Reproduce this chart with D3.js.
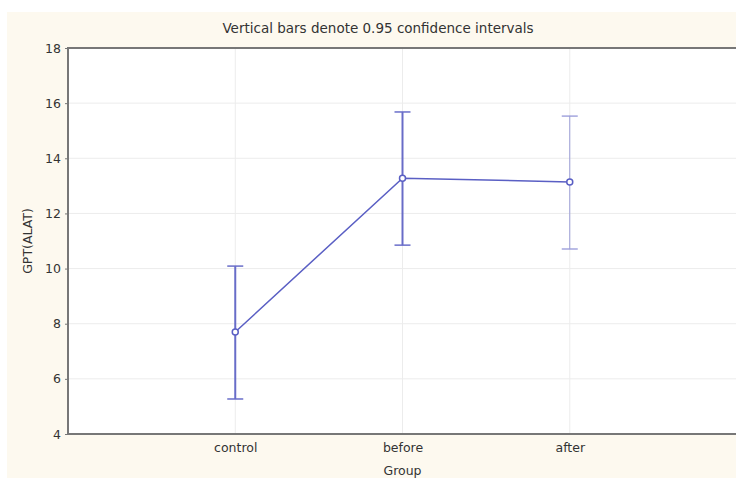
<!DOCTYPE html>
<html>
<head>
<meta charset="utf-8">
<script src="https://cdn.jsdelivr.net/npm/d3@7/dist/d3.min.js"></script>
<style>
  body { margin: 0; background: #fff; }
  svg { display: block; font-family: "DejaVu Sans", Verdana, sans-serif; }
</style>
</head>
<body>
<svg width="736" height="479"></svg>
<script>
var groups = ["control", "before", "after"];
var means = [7.70, 13.28, 13.14];
var lower = [5.27, 10.85, 10.71];
var upper = [10.09, 15.68, 15.53];
var yTicks = [4, 6, 8, 10, 12, 14, 16, 18];

var svg = d3.select("svg");
var margin = {left: 68, top: 48, right: -1, bottom: 45};
var width = +svg.attr("width");
var height = +svg.attr("height");

// cream frame
svg.append("rect")
    .attr("x", 7).attr("y", 12)
    .attr("width", width - 7).attr("height", height - 13)
    .attr("fill", "#fdf9ef");

var x = d3.scaleLinear()
    .domain([0, groups.length + 1])
    .range([margin.left, width - margin.right]);
var y = d3.scaleLinear()
    .domain([4, 18])
    .range([height - margin.bottom, margin.top]);

svg.append("rect")
    .attr("x", x(0)).attr("y", y(18))
    .attr("width", x(4) - x(0)).attr("height", y(4) - y(18))
    .attr("fill", "#fff");

// grid
svg.append("g").selectAll("line")
    .data(yTicks.slice(1, -1))
    .enter().append("line")
      .attr("x1", x(0)).attr("x2", x(4))
      .attr("y1", function(d) { return y(d); })
      .attr("y2", function(d) { return y(d); })
      .attr("stroke", "#ececec");
svg.append("g").selectAll("line")
    .data(groups)
    .enter().append("line")
      .attr("x1", function(d, i) { return x(i + 1); })
      .attr("x2", function(d, i) { return x(i + 1); })
      .attr("y1", y(18)).attr("y2", y(4))
      .attr("stroke", "#ececec");

// axes
var yAxis = svg.append("g")
    .attr("transform", "translate(" + x(0) + ",0)")
    .call(d3.axisLeft(y).tickValues(yTicks).tickSize(3).tickSizeOuter(0));
var xAxis = svg.append("g")
    .attr("transform", "translate(0," + y(4) + ")")
    .call(d3.axisBottom(x).tickValues([1, 2, 3])
      .tickFormat(function(d) { return groups[d - 1]; })
      .tickSize(0).tickPadding(9));
[yAxis, xAxis].forEach(function(a) {
  a.attr("font-family", null).attr("font-size", null);
  a.select(".domain").remove();
  a.selectAll("text").attr("fill", "#333").style("font-size", "12.5px");
  a.selectAll(".tick line").attr("stroke", "#777");
});
yAxis.selectAll("text").attr("x", -7);

svg.append("path")
    .attr("d", "M" + x(4) + "," + y(18) + "H" + x(0) + "V" + y(4) + "H" + x(4))
    .attr("fill", "none")
    .attr("stroke", "#777")
    .attr("stroke-width", 2);

// error bars
var blue = "#5a5fc4";
var bars = svg.append("g").selectAll("g")
    .data(groups)
    .enter().append("g")
      .attr("opacity", function(d, i) { return i == 2 ? 0.55 : 0.9; });
bars.append("line")
    .attr("x1", function(d, i) { return x(i + 1); })
    .attr("x2", function(d, i) { return x(i + 1); })
    .attr("y1", function(d, i) { return y(lower[i]); })
    .attr("y2", function(d, i) { return y(upper[i]); })
    .attr("stroke", blue)
    .attr("stroke-width", function(d, i) { return i == 2 ? 1 : 2; });
[lower, upper].forEach(function(arr) {
  bars.append("line")
      .attr("x1", function(d, i) { return x(i + 1) - 8; })
      .attr("x2", function(d, i) { return x(i + 1) + 8; })
      .attr("y1", function(d, i) { return y(arr[i]); })
      .attr("y2", function(d, i) { return y(arr[i]); })
      .attr("stroke", blue)
      .attr("stroke-width", 1.5);
});

// mean line
svg.append("path")
    .datum(means)
    .attr("d", d3.line()
      .x(function(d, i) { return x(i + 1); })
      .y(function(d) { return y(d); }))
    .attr("fill", "none")
    .attr("stroke", blue)
    .attr("stroke-width", 1.5);
svg.append("g").selectAll("circle")
    .data(means)
    .enter().append("circle")
      .attr("cx", function(d, i) { return x(i + 1); })
      .attr("cy", function(d) { return y(d); })
      .attr("r", 3)
      .attr("fill", "#fff")
      .attr("stroke", blue)
      .attr("stroke-width", 1.5);

// titles
svg.append("text")
    .attr("x", 378).attr("y", 33)
    .attr("text-anchor", "middle")
    .attr("fill", "#333")
    .style("font-size", "13.5px")
    .text("Vertical bars denote 0.95 confidence intervals");
svg.append("text")
    .attr("transform", "translate(32," + y(11) + ") rotate(-90)")
    .attr("text-anchor", "middle")
    .attr("fill", "#333")
    .style("font-size", "12.5px")
    .text("GPT(ALAT)");
svg.append("text")
    .attr("x", x(2)).attr("y", 475)
    .attr("text-anchor", "middle")
    .attr("fill", "#333")
    .style("font-size", "12.5px")
    .text("Group");
</script>
</body>
</html>
